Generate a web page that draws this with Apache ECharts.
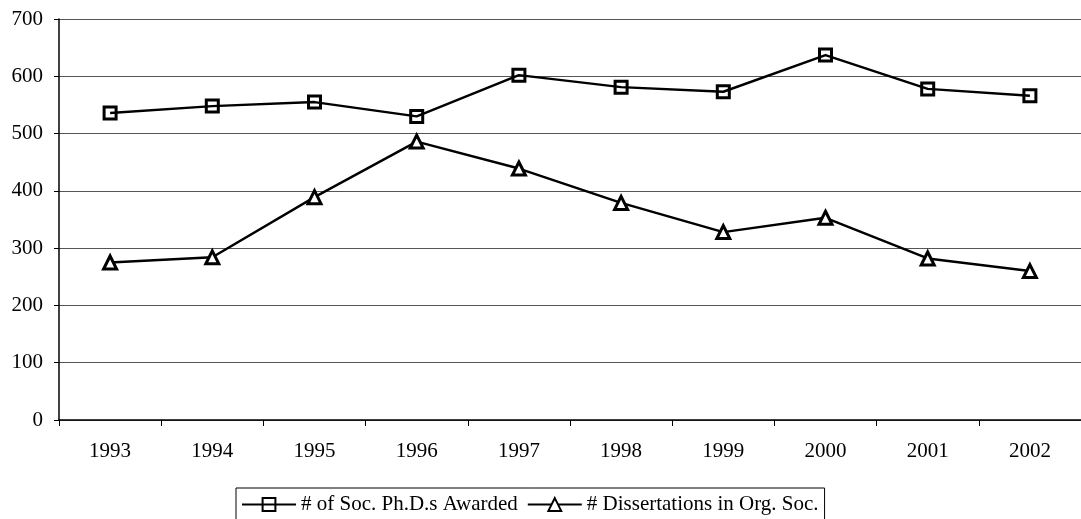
<!DOCTYPE html>
<html>
<head>
<meta charset="utf-8">
<script src="https://cdn.jsdelivr.net/npm/echarts@6/dist/echarts.min.js"></script>
<style>
html,body{margin:0;padding:0;background:#fff;}
#c{width:1081px;height:519px;}
</style>
</head>
<body>
<div id="c"></div>
<script>
const categories = ['1993','1994','1995','1996','1997','1998','1999','2000','2001','2002'];
const phdAwarded = [536, 548, 555, 530, 602, 581, 573, 637, 578, 566];
const orgSocDiss = [275, 284, 389, 486, 439, 379, 328, 353, 282, 260];
const seriesNames = ['# of Soc. Ph.D.s Awarded', '# Dissertations in Org. Soc.'];
const yTicks = {min: 0, max: 700, interval: 100};

const font = 'Liberation Serif, Times New Roman, serif';
const chart = echarts.init(document.getElementById('c'));
chart.setOption({
  animation: false,
  backgroundColor: '#fff',
  textStyle: {fontFamily: font},
  grid: {left: 59, right: -11, top: 19, bottom: 99, containLabel: false},
  legend: {
    left: 236, top: 488,
    padding: [6, 6, 12, 5],
    borderColor: '#000', borderWidth: 1, borderRadius: 0,
    itemWidth: 54, itemHeight: 16, itemGap: 9,
    textStyle: {fontFamily: font, fontSize: 21, color: '#000'},
    data: seriesNames
  },
  xAxis: {
    type: 'category', data: categories, boundaryGap: true,
    axisLine: {lineStyle: {color: '#000', width: 1.5}},
    axisTick: {show: true, length: 6, lineStyle: {color: '#000'}},
    axisLabel: {color: '#000', fontSize: 21, fontFamily: font, margin: 21},
    splitLine: {show: false}
  },
  yAxis: {
    type: 'value', min: yTicks.min, max: yTicks.max, interval: yTicks.interval,
    axisLine: {show: true, lineStyle: {color: '#000', width: 1.5}},
    axisTick: {show: true, length: 5, lineStyle: {color: '#000'}},
    axisLabel: {color: '#000', fontSize: 21, fontFamily: font, margin: 16},
    splitLine: {show: true, lineStyle: {color: '#555', width: 1}}
  },
  series: [
    {
      name: seriesNames[0], type: 'line', data: phdAwarded,
      symbol: 'rect', symbolSize: 12,
      lineStyle: {color: '#000', width: 2.4},
      itemStyle: {color: 'rgba(255,255,255,0)', borderColor: '#000', borderWidth: 3},
      z: 3
    },
    {
      name: seriesNames[1], type: 'line', data: orgSocDiss,
      symbol: 'triangle', symbolSize: 13,
      lineStyle: {color: '#000', width: 2.4},
      itemStyle: {color: '#fff', borderColor: '#000', borderWidth: 3},
      z: 3
    }
  ]
});
</script>
</body>
</html>
